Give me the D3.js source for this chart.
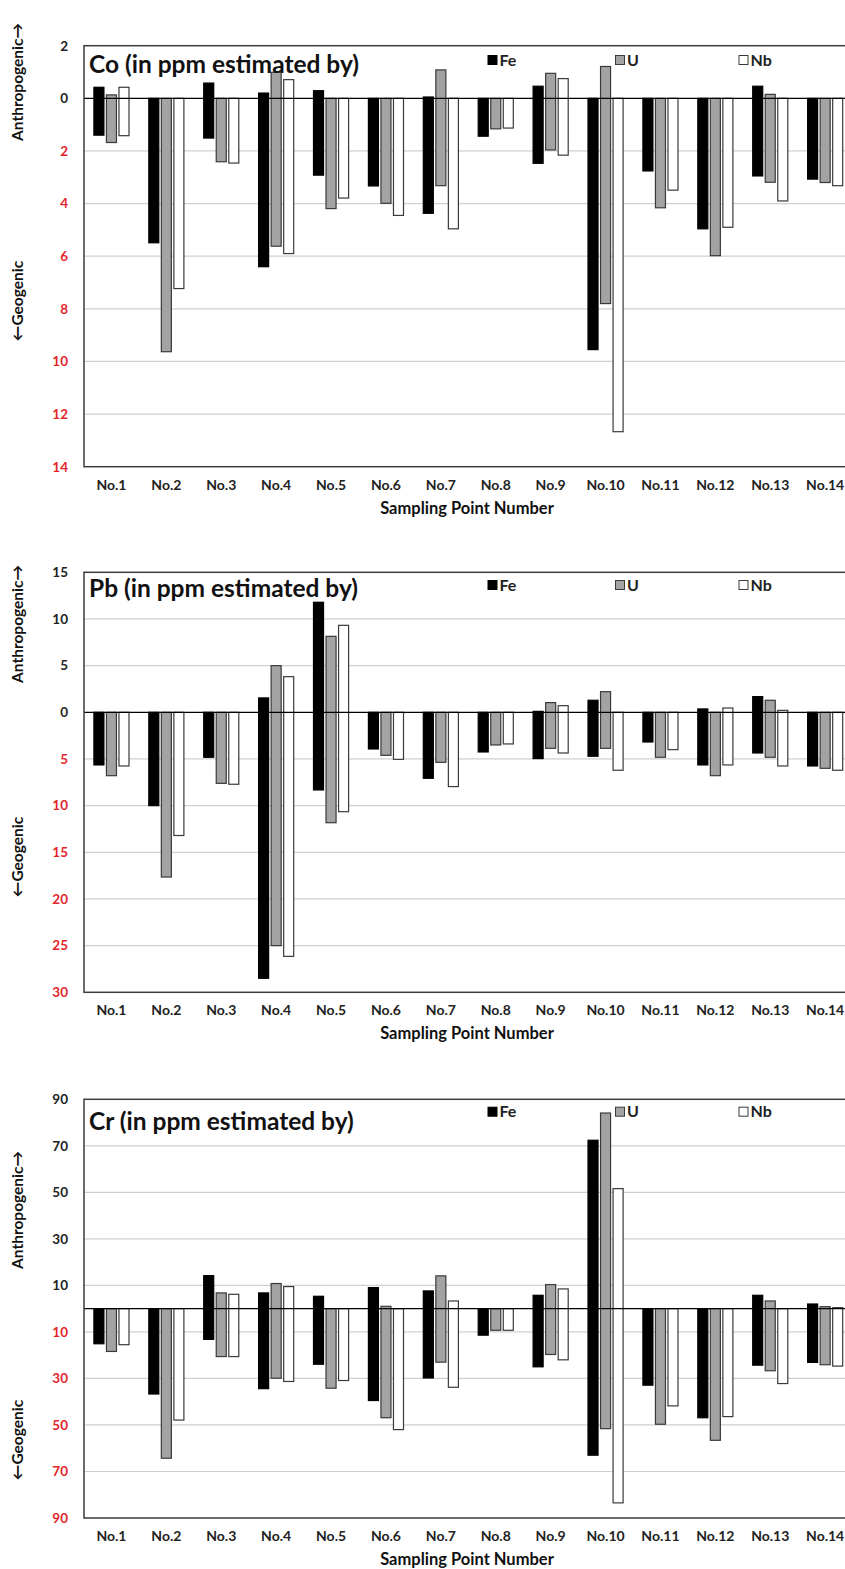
<!DOCTYPE html>
<html>
<head>
<meta charset="utf-8">
<title>Co / Pb / Cr</title>
<script src="https://d3js.org/d3.v7.min.js"></script>
<style>
  body { margin: 0; background: #fff; }
  text { font-family: Lato, "Open Sans", sans-serif; font-weight: bold; }
</style>
</head>
<body>
<svg width="845" height="1569"></svg>
<script>
// categories and series
var categories = ["No.1","No.2","No.3","No.4","No.5","No.6","No.7","No.8","No.9","No.10","No.11","No.12","No.13","No.14"];
var series = ["Fe", "U", "Nb"];

// Co: upper (anthropogenic) and lower (geogenic) ends of each bar
var coFeUp   = [0.42, 0, 0.58, 0.2, 0.29, 0, 0.05, 0, 0.46, 0, 0, 0, 0.46, 0];
var coFeDown = [-1.40, -5.49, -1.51, -6.40, -2.92, -3.33, -4.37, -1.44, -2.47, -9.55, -2.76, -4.96, -2.95, -3.07];
var coUUp    = [0.13, 0, 0, 0.99, 0, 0, 1.08, 0, 0.95, 1.21, 0, 0, 0.15, 0];
var coUDown  = [-1.68, -9.63, -2.41, -5.62, -4.19, -3.99, -3.32, -1.16, -1.96, -7.80, -4.16, -5.98, -3.19, -3.20];
var coNbUp   = [0.42, 0, 0, 0.71, 0, 0, 0, 0, 0.75, 0, 0, 0, 0, 0];
var coNbDown = [-1.42, -7.23, -2.46, -5.90, -3.79, -4.45, -4.96, -1.13, -2.16, -12.67, -3.49, -4.90, -3.90, -3.32];

// Pb
var pbFeUp   = [0, 0, 0, 1.54, 11.79, 0, 0, 0, 0.1, 1.29, 0, 0.36, 1.68, 0];
var pbFeDown = [-5.64, -10.0, -4.82, -28.5, -8.32, -3.93, -7.07, -4.25, -4.96, -4.71, -3.18, -5.64, -4.36, -5.75];
var pbUUp    = [0, 0, 0, 5.0, 8.14, 0, 0, 0, 1.04, 2.21, 0, 0, 1.29, 0];
var pbUDown  = [-6.79, -17.65, -7.61, -25.0, -11.83, -4.61, -5.36, -3.5, -3.86, -3.86, -4.82, -6.79, -4.82, -6.0];
var pbNbUp   = [0, 0, 0, 3.82, 9.32, 0, 0, 0, 0.71, 0, 0, 0.46, 0.21, 0];
var pbNbDown = [-5.75, -13.2, -7.71, -26.15, -10.65, -5.04, -7.96, -3.39, -4.36, -6.21, -4.0, -5.64, -5.75, -6.21];

// Cr
var crFeUp   = [0, 0, 14.2, 6.76, 5.32, 9.06, 7.62, 0, 5.75, 72.4, 0, 0, 5.75, 2.0];
var crFeDown = [-15.1, -36.7, -13.2, -34.4, -23.9, -39.5, -29.8, -11.4, -25.0, -63.0, -32.9, -46.9, -24.3, -23.1];
var crUUp    = [0, 0, 6.76, 10.8, 0, 1.0, 14.1, 0, 10.35, 84.1, 0, 0, 3.3, 0.86];
var crUDown  = [-18.4, -64.3, -20.6, -29.9, -34.2, -46.9, -23.0, -9.3, -19.7, -51.6, -49.7, -56.6, -26.7, -24.1];
var crNbUp   = [0, 0, 6.18, 9.49, 0, 0, 3.3, 0, 8.48, 51.6, 0, 0, 0, 0.43];
var crNbDown = [-15.5, -47.9, -20.6, -31.3, -30.9, -52.0, -33.8, -9.3, -22.0, -83.5, -41.8, -46.4, -32.2, -24.7];

// y tick values
var coTicks = [2, 0, -2, -4, -6, -8, -10, -12, -14];
var pbTicks = [15, 10, 5, 0, -5, -10, -15, -20, -25, -30];
var crTicks = [90, 70, 50, 30, 10, -10, -30, -50, -70, -90];

var svg = d3.select("svg");
var left = 84, step = 54.9;
var right = left + step * categories.length;

var fills = {Fe: "#000", U: "#a3a3a3", Nb: "#fff"};
var strokes = {Fe: "#000", U: "#3a3a3a", Nb: "#3a3a3a"};

var x0 = d3.scaleBand().domain(categories).range([left, right]);
var x1 = d3.scaleBand().domain(series).range([0, x0.bandwidth()])
    .paddingInner(0.2).paddingOuter(0.79);

function panel(opt) {
  var g = svg.append("g");
  var y = d3.scaleLinear().domain(opt.domain).range([opt.top, opt.bottom]);

  // grid lines
  g.selectAll("line.grid")
    .data(opt.ticks.filter(function(t) { return t !== opt.domain[0] && t !== opt.domain[1] && t !== 0; }))
    .enter().append("line")
      .attr("x1", left).attr("x2", right)
      .attr("y1", function(d) { return y(d); })
      .attr("y2", function(d) { return y(d); })
      .attr("stroke", "#d0d0d0")
      .attr("stroke-width", 1.2);

  // y axis labels
  var ay = g.append("g")
    .attr("transform", "translate(" + left + ",0)")
    .call(d3.axisLeft(y).tickValues(opt.ticks).tickSize(0).tickPadding(16)
      .tickFormat(function(d) { return Math.abs(d); }));
  ay.select(".domain").remove();
  ay.selectAll("text")
    .style("font-family", "Lato, sans-serif")
    .style("font-weight", "bold")
    .style("font-size", "13.5px")
    .attr("fill", function(d) { return d < 0 ? "#e3262b" : "#222"; });

  // bars
  series.forEach(function(s) {
    var up = opt.up[s], down = opt.down[s];
    g.selectAll("rect.b" + s)
      .data(categories)
      .enter().append("rect")
        .attr("x", function(c) { return x0(c) + x1(s); })
        .attr("width", x1.bandwidth())
        .attr("y", function(c, i) { return y(up[i]); })
        .attr("height", function(c, i) { return y(down[i]) - y(up[i]); })
        .attr("fill", fills[s])
        .attr("stroke", strokes[s])
        .attr("stroke-width", 1.2);
  });

  // zero line
  g.append("line")
    .attr("x1", left).attr("x2", right)
    .attr("y1", y(0)).attr("y2", y(0))
    .attr("stroke", "#000").attr("stroke-width", 1.3);

  // frame
  g.append("rect")
    .attr("x", left).attr("y", opt.top)
    .attr("width", right - left).attr("height", opt.bottom - opt.top)
    .attr("fill", "none").attr("stroke", "#3c3c3c").attr("stroke-width", 1.5);

  // x labels
  var ax = g.append("g")
    .attr("transform", "translate(0," + opt.bottom + ")")
    .call(d3.axisBottom(x0).tickSize(0).tickPadding(13));
  ax.select(".domain").remove();
  ax.selectAll("text")
    .style("font-family", "Lato, sans-serif")
    .style("font-weight", "bold")
    .style("font-size", "14px")
    .attr("fill", "#222");

  g.append("text")
    .attr("x", 467).attr("y", opt.bottom + 47)
    .attr("text-anchor", "middle")
    .style("font-size", "16.5px")
    .attr("fill", "#111")
    .text("Sampling Point Number");

  // title
  g.append("text")
    .attr("x", 89).attr("y", opt.titleY)
    .style("font-size", "24.5px")
    .attr("fill", "#111")
    .text(opt.title);

  // legend
  var lx = [488, 615.5, 739];
  series.forEach(function(s, i) {
    g.append("rect")
      .attr("x", lx[i]).attr("y", opt.legendY - 4.5)
      .attr("width", 9).attr("height", 9)
      .attr("fill", fills[s]).attr("stroke", strokes[s]).attr("stroke-width", 1);
    g.append("text")
      .attr("x", lx[i] + 11.5).attr("y", opt.legendY + 5.5)
      .style("font-size", "16px")
      .attr("fill", "#222")
      .text(s);
  });

  // side titles
  g.append("text")
    .attr("transform", "translate(23," + opt.anthroY + ") rotate(-90)")
    .attr("text-anchor", "middle")
    .style("font-size", "15.5px")
    .attr("fill", "#111")
    .text("Anthropogenic\u2192");
  g.append("text")
    .attr("transform", "translate(23," + opt.geoY + ") rotate(-90)")
    .attr("text-anchor", "middle")
    .style("font-size", "15.5px")
    .attr("fill", "#111")
    .text("\u2190Geogenic");
}

panel({
  title: "Co (in ppm estimated by)", domain: [2, -14], top: 45.7, bottom: 466.7, ticks: coTicks,
  up: {Fe: coFeUp, U: coUUp, Nb: coNbUp}, down: {Fe: coFeDown, U: coUDown, Nb: coNbDown},
  titleY: 73.3, legendY: 60, anthroY: 82, geoY: 301
});
panel({
  title: "Pb (in ppm estimated by)", domain: [15, -30], top: 572.3, bottom: 992.3, ticks: pbTicks,
  up: {Fe: pbFeUp, U: pbUUp, Nb: pbNbUp}, down: {Fe: pbFeDown, U: pbUDown, Nb: pbNbDown},
  titleY: 596.7, legendY: 585, anthroY: 624, geoY: 857
});
panel({
  title: "Cr (in ppm estimated by)", domain: [90, -90], top: 1099.3, bottom: 1518, ticks: crTicks,
  up: {Fe: crFeUp, U: crUUp, Nb: crNbUp}, down: {Fe: crFeDown, U: crUDown, Nb: crNbDown},
  titleY: 1130, legendY: 1111.7, anthroY: 1210, geoY: 1440
});
</script>
</body>
</html>
